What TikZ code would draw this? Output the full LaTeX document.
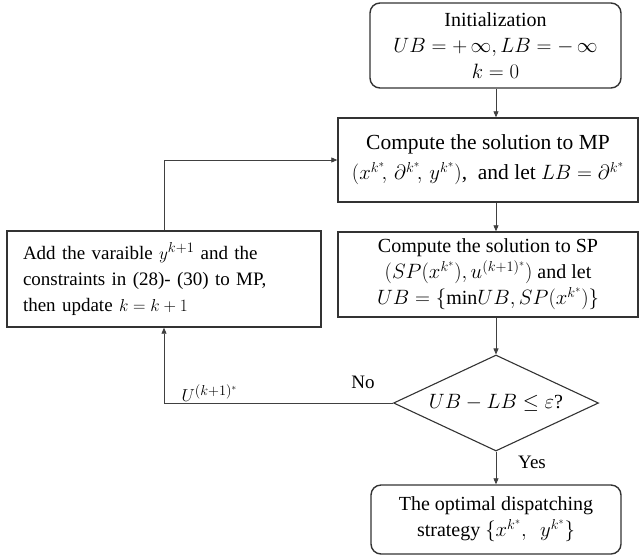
\documentclass[tikz,border=0pt]{standalone}
\usepackage{fontspec}
\setmainfont{Liberation Serif}
\usetikzlibrary{shapes.geometric,arrows.meta}
\begin{document}
\begin{tikzpicture}[x=1pt,y=-1pt,
  every node/.style={font=\fontsize{20}{26}\selectfont, text=black},
  box/.style={draw=black!80, line width=1.4pt, rectangle, inner sep=0pt, align=center},
  rbox/.style={box, rounded corners=10pt},
  dia/.style={draw=black!80, line width=1.1pt, diamond, inner sep=0pt, aspect=2.13, minimum width=205pt, minimum height=96pt},
  conn/.style={draw=black!75, line width=0.8pt, -{Triangle[length=6pt,width=5pt]}},
  lbl/.style={font=\fontsize{19}{22}\selectfont}]
\useasboundingbox (0,0) rectangle (644,558);

\node[rbox, minimum width=251pt, minimum height=85pt] (init) at (495.5,45.5)
  {Initialization\\ $UB\mathrel{=}{+}\,\infty, LB\mathrel{=}{-}\,\infty$\\ $k=0$};

\node[box, minimum width=300pt, minimum height=84pt, font=\fontsize{21.5}{30}\selectfont] (mp) at (488,160)
  {Compute the solution to MP\\ $\bigl(x^{k^*}\!,\,\partial^{k^*}\!,\,y^{k^*}\bigr)$,\ \ and let $LB=\partial^{k^*}$};

\node[box, minimum width=300pt, minimum height=85pt] (sp) at (488,274.5)
  {Compute the solution to SP\\ $\bigl(SP\bigl(x^{k^*}\bigr),u^{(k+1)^*}\bigr)$ and let\\ $UB=\bigl\{\mathrm{min}UB,SP\bigl(x^{k^*}\bigr)\bigr\}$};

\node[box, minimum width=314pt, minimum height=96pt, text width=282pt, align=left, font=\fontsize{19}{26}\selectfont] (add) at (164,279)
  {Add the varaible $y^{k+1}$ and the\\ constraints in (28)- (30) to MP,\\ then update $k=k+1$};

\node[dia] (chk) at (496,403) {$UB-LB\le\varepsilon$?};

\node[rbox, minimum width=250pt, minimum height=69pt] (opt) at (496,519.5)
  {The optimal dispatching\\ strategy $\bigl\{x^{k^*},\ \ y^{k^*}\bigr\}$};

\draw[conn] (init.south -| chk.north) -- (chk.north |- mp.north);
\draw[conn] (mp.south -| chk.north) -- (chk.north |- sp.north);
\draw[conn] (sp.south -| chk.north) -- (chk.north);
\draw[conn] (chk.south) -- (opt.north);
\draw[conn] (add.north) |- (mp.west);
\draw[conn] (chk.west) -| (add.south);

\node[lbl] (no) at (363,382) {No};
\node[lbl] (yes) at (532,462) {Yes};
\node[lbl, anchor=west] (u) at (178,393) {$U^{(k+1)^*}$};
\end{tikzpicture}
\end{document}
